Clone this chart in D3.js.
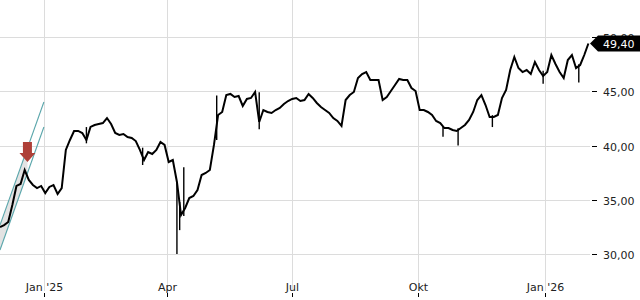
<!DOCTYPE html>
<html>
<head>
<meta charset="utf-8">
<script src="https://cdn.jsdelivr.net/npm/d3@7"></script>
<style>
  html, body { margin: 0; padding: 0; background: #fff; }
  svg { display: block; }
</style>
</head>
<body>
<svg id="chart" width="640" height="300"></svg>
<script>
// closing prices, one every 3 calendar days from 30 Nov 2024
const closes = [
  32.49, 32.67, 32.95, 34.52, 36.27, 36.45, 37.74, 36.82, 36.36, 36.08,
  36.27, 35.62, 36.18, 36.36, 35.53, 36.08, 39.59, 40.51, 41.34, 41.34,
  41.15, 40.51, 41.71, 41.89, 41.98, 42.07, 42.53, 41.98, 41.15, 40.97,
  41.06, 40.78, 40.69, 40.41, 39.59, 38.66, 39.40, 39.22, 39.59, 40.32,
  40.05, 38.48, 38.66, 36.64, 33.59, 34.24, 35.16, 35.35, 35.90, 37.28,
  37.47, 37.74, 40.05, 42.81, 43.09, 44.65, 44.75, 44.47, 44.56, 43.64,
  44.29, 44.38, 44.93, 42.17, 43.27, 43.09, 43.00, 43.27, 43.46, 43.82,
  44.10, 44.29, 44.38, 44.10, 44.19, 44.75, 44.38, 43.92, 43.55, 43.27,
  43.00, 42.53, 42.26, 41.80, 44.19, 44.65, 44.93, 46.22, 46.59, 46.77,
  46.04, 46.04, 46.04, 44.19, 44.47, 45.02, 45.58, 46.13, 46.04, 46.04,
  45.30, 45.02, 43.27, 43.27, 43.09, 42.81, 42.26, 42.07, 41.61, 41.61,
  41.43, 41.34, 41.61, 41.89, 42.35, 43.09, 44.19, 44.65, 43.73, 42.63,
  42.63, 42.81, 44.38, 45.12, 46.96, 48.16, 47.14, 46.77, 46.96, 46.59,
  47.70, 46.96, 46.41, 46.77, 48.34, 47.51, 46.77, 46.22, 47.88, 48.34,
  47.14, 47.42, 48.34, 49.40
];
const startDate = new Date(2024, 10, 30);

// daily extremes that stick out of the close line
const wickDates = ['2025-02-01', '2025-03-14', '2025-04-08', '2025-04-10', '2025-04-13',
  '2025-05-07', '2025-06-07', '2025-10-19', '2025-10-30', '2025-11-24', '2025-12-31', '2026-01-26'];
const wickLow  = [40.2, 38.2, 30.0, 32.2, 33.5, 40.5, 41.5, 40.8, 40.0, 41.7, 45.7, 45.8];
const wickHigh = [41.7, 39.8, 36.6, 34.8, 38.0, 44.6, 44.9, 41.8, 41.6, 42.8, 46.9, 47.5];

// trend channel (two parallel lines) and signal arrow
const channelDates = ['2024-11-30', '2025-01-01'];
const channelLower = [30.37, 41.71];
const channelUpper = [32.67, 44.01];
const channelFillEnd = '2024-12-20';
const arrowDate = '2024-12-20';
const arrowPrice = 38.48;

const yTicks = [30, 35, 40, 45, 50];
const xTickDates = ['2025-01-01', '2025-04-01', '2025-07-01', '2025-10-01', '2026-01-01'];
const xTickLabels = ["Jan '25", 'Apr', 'Jul', 'Okt', "Jan '26"];
const lastPrice = 49.40;

const parse = d3.timeParse('%Y-%m-%d');
const de = d3.formatLocale({ decimal: ',', thousands: '.', grouping: [3], currency: ['', ' €'] });
const fmt = de.format('.2f');

const svg = d3.select('#chart');
const plotRight = 590, plotBottom = 291;
const font = 'DejaVu Sans, sans-serif';

const x = d3.scaleTime()
  .domain([startDate, parse('2026-01-01')])
  .range([0, 544.5]);
const y = d3.scaleLinear().domain([30, 50]).range([254, 37]);

const data = closes.map((c, i) => ({ date: d3.timeDay.offset(startDate, 3 * i), close: c }));

// grid
const grid = svg.append('g');
grid.selectAll('line.h').data(yTicks).join('line')
  .attr('x1', 0).attr('x2', plotRight)
  .attr('y1', d => Math.round(y(d)) + 0.5).attr('y2', d => Math.round(y(d)) + 0.5)
  .attr('stroke', '#dcdcdc').attr('stroke-width', 1);
grid.selectAll('line.v').data(xTickDates).join('line')
  .attr('x1', d => Math.round(x(parse(d))) + 0.5).attr('x2', d => Math.round(x(parse(d))) + 0.5)
  .attr('y1', 0).attr('y2', plotBottom)
  .attr('stroke', '#dcdcdc').attr('stroke-width', 1);

// channel shading + lines
const chanAt = t => {
  const t0 = parse(channelDates[0]), t1 = parse(channelDates[1]);
  const k = (t - t0) / (t1 - t0);
  return { lo: channelLower[0] + k * (channelLower[1] - channelLower[0]),
           hi: channelUpper[0] + k * (channelUpper[1] - channelUpper[0]) };
};
const fEnd = parse(channelFillEnd), fStart = parse(channelDates[0]);
const a = chanAt(fStart), b = chanAt(fEnd);
svg.append('path')
  .attr('d', `M${x(fStart)},${y(a.hi)} L${x(fEnd)},${y(b.hi)} L${x(fEnd)},${y(b.lo)} L${x(fStart)},${y(a.lo)} Z`)
  .attr('fill', '#d9d9d9').attr('opacity', 0.75);
[channelLower, channelUpper].forEach(c => {
  svg.append('line')
    .attr('x1', x(parse(channelDates[0]))).attr('y1', y(c[0]))
    .attr('x2', x(parse(channelDates[1]))).attr('y2', y(c[1]))
    .attr('stroke', '#5aa6ab').attr('stroke-width', 1.1);
});

// price
svg.append('g').selectAll('line').data(wickDates).join('line')
  .attr('x1', d => x(parse(d))).attr('x2', d => x(parse(d)))
  .attr('y1', (d, i) => y(wickLow[i])).attr('y2', (d, i) => y(wickHigh[i]))
  .attr('stroke', '#000').attr('stroke-width', 1.4);
svg.append('path')
  .datum(data)
  .attr('d', d3.line().x(d => x(d.date)).y(d => y(d.close)))
  .attr('fill', 'none').attr('stroke', '#000').attr('stroke-width', 2)
  .attr('stroke-linejoin', 'miter');

// signal arrow (pointing down onto the top)
const ax = x(parse(arrowDate)), ay = y(arrowPrice);
svg.append('path')
  .attr('d', `M${ax},${ay} L${ax - 8},${ay - 9} L${ax - 4.5},${ay - 9} L${ax - 4.5},${ay - 20} L${ax + 4.5},${ay - 20} L${ax + 4.5},${ay - 9} L${ax + 8},${ay - 9} Z`)
  .attr('fill', '#ae4038');

// y axis (right)
const yAx = svg.append('g');
yTicks.forEach(t => {
  const yy = Math.round(y(t)) + 0.5;
  yAx.append('line').attr('x1', 592).attr('x2', 597).attr('y1', yy).attr('y2', yy)
    .attr('stroke', '#000').attr('stroke-width', 1);
  yAx.append('text').attr('x', 603).attr('y', yy + 4)
    .attr('font-family', font).attr('font-size', 11).attr('fill', '#222')
    .text(fmt(t));
});

// x axis (bottom)
const xAx = svg.append('g');
xTickDates.forEach((d, i) => {
  const xx = Math.round(x(parse(d))) + 0.5;
  xAx.append('line').attr('x1', xx).attr('x2', xx).attr('y1', 293).attr('y2', 297)
    .attr('stroke', '#000').attr('stroke-width', 1);
  xAx.append('text').attr('x', xx).attr('y', 291)
    .attr('text-anchor', 'middle')
    .attr('font-family', font).attr('font-size', 11).attr('fill', '#222')
    .text(xTickLabels[i]);
});

// last price tag (sits on top of the 50,00 label, as in the original)
const ly = y(lastPrice);
svg.append('path')
  .attr('d', `M${plotRight},${ly} L${plotRight + 8},${ly - 8} L640,${ly - 8} L640,${ly + 8} L${plotRight + 8},${ly + 8} Z`)
  .attr('fill', '#000');
svg.append('text').attr('x', 603).attr('y', ly + 4)
  .attr('font-family', font).attr('font-size', 11).attr('fill', '#fff')
  .text(fmt(lastPrice));
</script>
</body>
</html>
